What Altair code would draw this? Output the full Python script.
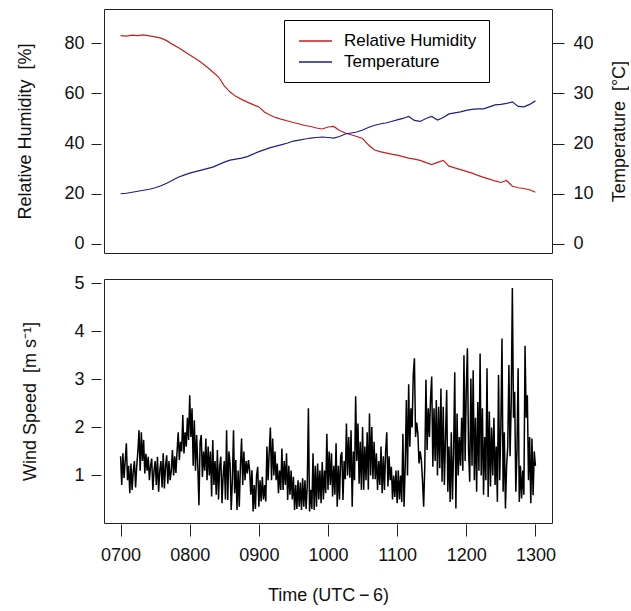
import altair as alt
import pandas as pd

# ---- data ----
# 5-minute samples, 0700 .. 1300
rh_values = [83.0, 82.8, 83.2, 83.0, 83.3, 82.9, 82.5, 82.0, 81.0, 79.5,
             78.3, 76.8, 75.3, 73.9, 72.3, 70.5, 68.5, 66.5, 63.0, 60.5,
             58.8, 57.6, 56.5, 55.5, 54.6, 52.5, 51.3, 50.3, 49.6, 49.0,
             48.4, 47.8, 47.2, 46.8, 46.2, 45.8, 46.6, 46.8, 45.2, 44.2,
             43.5, 42.8, 42.0, 39.5, 37.5, 36.8, 36.3, 35.8, 35.4, 34.8,
             34.2, 33.8, 33.3, 32.4, 31.6, 32.5, 33.3, 31.0, 30.3, 29.6,
             28.9, 28.2, 27.3, 26.5, 25.8, 25.1, 24.5, 25.3, 23.0, 22.4,
             22.1, 21.6, 20.6]
temp_values = [10.0, 10.1, 10.3, 10.5, 10.7, 10.9, 11.2, 11.6, 12.1, 12.7,
               13.3, 13.7, 14.1, 14.4, 14.7, 15.0, 15.3, 15.8, 16.3, 16.7,
               16.9, 17.1, 17.4, 17.9, 18.4, 18.8, 19.2, 19.5, 19.8, 20.1,
               20.5, 20.7, 20.9, 21.1, 21.2, 21.3, 21.2, 21.1, 21.4, 21.9,
               22.1, 22.3, 22.7, 23.2, 23.6, 23.9, 24.1, 24.4, 24.7, 25.0,
               25.4, 24.6, 24.4, 25.0, 25.4, 24.7, 25.2, 25.9, 26.1, 26.3,
               26.6, 26.8, 26.9, 26.9, 27.3, 27.7, 27.8, 28.0, 28.3, 27.4,
               27.3, 27.8, 28.5]
# 1-minute samples, 0700 .. 1300
wind_values = [
    1.4, 0.8, 1.46, 0.95, 1.3, 1.67, 0.9, 1.2, 0.63, 1.25,
    0.7, 1.1, 1.3, 0.75, 1.2, 1.5, 1.94, 1.1, 1.9, 1.3,
    1.74, 1.04, 1.45, 1.1, 1.39, 0.9, 1.2, 1.35, 0.7, 1.1,
    1.3, 0.8, 1.39, 0.66, 1.1, 1.3, 0.75, 1.46, 0.73, 1.2,
    1.42, 0.83, 1.3, 0.9, 1.1, 1.53, 1.0, 1.4, 1.05, 1.5,
    1.9, 1.32, 1.7, 1.5, 2.26, 1.46, 1.9, 1.6, 2.2, 1.74,
    2.67, 1.8, 2.4, 1.2, 2.15, 1.1, 1.84, 1.2, 0.38, 1.7,
    1.84, 0.97, 1.5, 1.1, 1.77, 0.9, 1.6, 1.0, 1.5, 0.56,
    1.74, 0.8, 1.3, 0.6, 1.53, 0.5, 1.2, 1.39, 0.42, 1.0,
    1.3, 0.5, 1.94, 0.49, 1.5, 1.25, 0.28, 0.9, 1.94, 0.63,
    1.32, 0.28, 1.1, 0.35, 1.2, 1.77, 0.8, 1.5, 0.9, 1.3,
    1.04, 1.32, 1.1, 0.6, 1.11, 0.25, 0.8, 0.3, 1.0, 1.18,
    0.35, 0.9, 0.46, 0.97, 0.5, 0.8, 0.46, 1.6, 0.9, 1.5,
    2.0, 0.9, 1.77, 1.0, 1.5, 0.9, 1.25, 0.63, 1.1, 0.7,
    1.56, 0.7, 1.3, 0.8, 1.46, 0.49, 1.2, 0.6, 1.1, 0.5,
    0.97, 0.28, 0.8, 0.3, 0.9, 0.35, 0.85, 0.28, 0.94, 0.35,
    0.9, 0.3, 0.8, 2.4, 0.25, 0.7, 0.3, 1.46, 0.28, 1.2,
    0.35, 1.25, 0.5, 1.1, 0.42, 1.28, 0.5, 1.1, 0.63, 1.87,
    0.7, 1.5, 0.8, 1.46, 0.56, 1.2, 0.6, 1.67, 0.35, 1.2,
    0.5, 1.4, 1.49, 0.49, 1.3, 0.92, 2.08, 1.0, 1.8, 0.95,
    1.94, 0.35, 1.5, 0.9, 2.65, 1.3, 2.08, 0.83, 1.7, 0.7,
    2.01, 0.7, 1.6, 0.9, 1.9, 0.7, 2.29, 1.0, 2.01, 0.92,
    1.7, 0.92, 1.46, 0.7, 1.3, 0.8, 1.6, 0.63, 1.4, 0.7,
    1.5, 1.9, 0.77, 1.4, 0.9, 1.18, 0.5, 1.0, 0.55, 1.1,
    0.42, 1.11, 0.5, 1.0, 0.45, 1.87, 0.35, 1.2, 2.57, 1.0,
    2.9, 1.6, 2.4, 2.0, 3.1, 3.44, 1.8, 2.1, 1.87, 1.25,
    1.5, 1.32, 0.9, 0.35, 1.2, 2.99, 1.53, 2.4, 1.8, 2.6,
    3.06, 1.18, 2.4, 1.3, 2.57, 1.0, 2.43, 1.15, 2.81, 0.87,
    2.43, 0.8, 1.8, 2.78, 0.66, 1.6, 0.45, 1.9, 0.5, 1.5,
    3.15, 0.31, 2.29, 1.0, 1.8, 1.2, 2.2, 1.1, 3.5, 1.3,
    2.8, 3.65, 1.5, 0.87, 3.02, 1.2, 3.19, 0.9, 2.2, 0.66,
    2.53, 1.1, 3.54, 1.0, 2.4, 0.6, 1.8, 0.9, 3.23, 0.55,
    2.33, 0.77, 2.0, 1.0, 2.2, 0.8, 1.6, 0.45, 3.09, 0.9,
    2.0, 3.85, 0.66, 1.9, 0.31, 1.2, 1.6, 3.3, 1.4, 2.5,
    4.9, 2.2, 2.74, 0.66, 1.5, 3.23, 0.45, 1.2, 0.52, 1.1,
    0.6, 3.7, 2.2, 2.67, 0.9, 1.8, 0.42, 1.77, 0.59, 1.5,
    1.2]

series_names = ["Relative Humidity", "Temperature"]
series_colors = ["#C81E1E", "#1E1E8C"]
hour_ticks = [7, 8, 9, 10, 11, 12, 13]
rh_ticks = [0, 20, 40, 60, 80]
temp_ticks = [0, 10, 20, 30, 40]
wind_ticks = [1, 2, 3, 4, 5]

t5 = [7 + i * 5 / 60 for i in range(len(rh_values))]
t1 = [7 + i / 60 for i in range(len(wind_values))]

df_rh = pd.DataFrame({"t": t5, "v": rh_values, "series": series_names[0]})
df_t = pd.DataFrame({"t": t5, "v": temp_values, "series": series_names[1]})
df_w = pd.DataFrame({"t": t1, "v": wind_values})

FONT = "Liberation Sans"
NB = "\u00a0"
x_scale = alt.Scale(domain=[6.76, 13.24], nice=False, zero=False)
color_scale = alt.Scale(domain=series_names, range=series_colors)

legend = alt.Legend(
    title=None, orient="none", legendX=180, legendY=11, direction="vertical",
    symbolType="M-0.75,0H3.375", symbolSize=256, symbolStrokeWidth=1.3,
    labelFont=FONT, labelFontSize=17, labelColor="black", labelOffset=30,
    padding=12, rowPadding=4, strokeColor="black", fillColor="white",
    cornerRadius=0,
)

left_axis_common = dict(offset=3, tickSize=10, labelPadding=7, labelAngle=0,
                        titleAngle=270, labelFont=FONT, titleFont=FONT,
                        labelFontSize=18, titleFontSize=18)

rh_line = alt.Chart(df_rh).mark_line(strokeWidth=1.2).encode(
    x=alt.X("t:Q", scale=x_scale, axis=None),
    y=alt.Y("v:Q", scale=alt.Scale(domain=[-3.6, 93.6], nice=False, zero=False),
            axis=alt.Axis(orient="left", values=rh_ticks,
                          title="Relative Humidity" + NB + NB + "[%]",
                          titlePadding=29, **left_axis_common)),
    color=alt.Color("series:N", scale=color_scale, legend=legend),
)

t_line = alt.Chart(df_t).mark_line(strokeWidth=1.2).encode(
    x=alt.X("t:Q", scale=x_scale, axis=None),
    y=alt.Y("v:Q", scale=alt.Scale(domain=[-1.8, 46.8], nice=False, zero=False),
            axis=alt.Axis(orient="right", values=temp_ticks,
                          title="Temperature" + NB + NB + "[°C]",
                          offset=0, tickSize=12, labelPadding=9, labelAngle=0,
                          titleAngle=270, titleBaseline="top", titlePadding=17,
                          labelFont=FONT, titleFont=FONT, labelFontSize=18, titleFontSize=18)),
    color=alt.Color("series:N", scale=color_scale, legend=legend),
)

top = alt.layer(rh_line, t_line).resolve_scale(y="independent").properties(width=448, height=244)

bottom = alt.Chart(df_w).mark_line(color="black", strokeWidth=1.5).encode(
    x=alt.X("t:Q", scale=x_scale,
            axis=alt.Axis(values=hour_ticks,
                          labelExpr="datum.value < 10 ? '0' + datum.value + '00' : datum.value + '00'",
                          title="Time (UTC\u2009\u2212\u20096)", offset=1, tickSize=12,
                          labelPadding=10, titlePadding=22,
                          labelFont=FONT, titleFont=FONT, labelFontSize=18, titleFontSize=18)),
    y=alt.Y("v:Q", scale=alt.Scale(domain=[0.01, 5.09], nice=False, zero=False),
            axis=alt.Axis(values=wind_ticks,
                          title="Wind Speed" + NB + NB + "[m s\u207b\u00b9]",
                          titlePadding=34, **left_axis_common)),
).properties(width=448, height=244)

chart = alt.vconcat(top, bottom, spacing=19).configure(
    padding={"left": 16, "top": 8, "right": 0, "bottom": 0},
    font=FONT,
).configure_view(
    stroke="#222222", strokeWidth=1,
).configure_axis(
    domain=False, grid=False, tickColor="#222222", labelColor="#111111",
    titleColor="#111111", titleFontWeight="normal",
)

chart.save("out.html", embed_options={"renderer": "svg", "actions": False})
